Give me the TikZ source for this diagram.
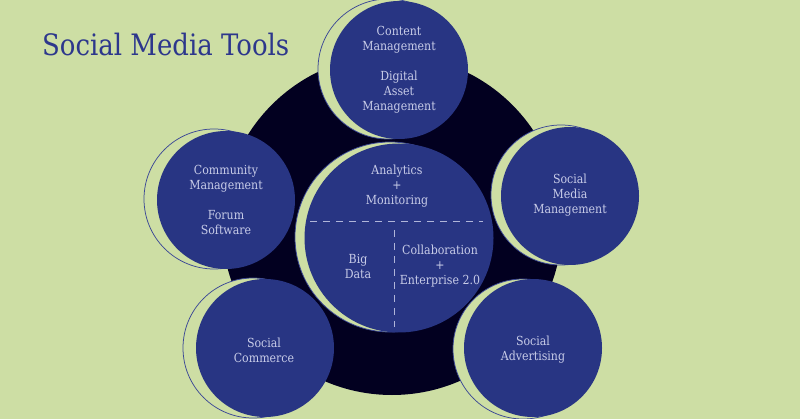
\documentclass[tikz,border=0pt]{standalone}
\usepackage{fontspec}
\setmainfont{DejaVu Serif}[FakeStretch=0.88]
\definecolor{bgc}{RGB}{205,222,164}
\definecolor{darkc}{RGB}{2,0,32}
\definecolor{bluec}{RGB}{40,53,131}
\definecolor{rimc}{RGB}{60,72,150}
\definecolor{txtc}{RGB}{200,204,232}
\definecolor{titlec}{RGB}{45,55,140}
\begin{document}
\begin{tikzpicture}[x=1pt,y=-1pt,
  ghost/.style={circle, fill=bgc, draw=rimc, line width=0.75pt, minimum size=#1, inner sep=0pt},
  disc/.style={circle, fill=bluec, minimum size=#1, inner sep=0pt},
  lbl/.style={text=txtc, align=center, inner sep=0pt, font=\fontsize{12.5}{15}\selectfont},
  sep/.style={draw=txtc!85!bluec, line width=1pt, dash pattern=on 7pt off 6pt}]
\fill[bgc] (0,0) rectangle (800,419);
\useasboundingbox (0,0) rectangle (800,419);
\node[anchor=base west, text=titlec, inner sep=0pt, font=\fontsize{29.5}{31}\selectfont] (title) at (42,56) {Social Media Tools};
% hub
\node[circle, fill=darkc, minimum size=340pt, inner sep=0pt] (hub) at (392,225) {};
% top
\node[ghost=140pt] (g1) at (388,69) {};
\node[disc=138pt] (c1) at (399,70) {};
% community
\node[ghost=140pt] (g2) at (214,199) {};
\node[disc=138pt] (c2) at (226,200) {};
% social media management
\node[ghost=140pt] (g3) at (561,195) {};
\node[disc=138pt] (c3) at (570,196) {};
% commerce
\node[ghost=140pt] (g4) at (253,348) {};
\node[disc=138pt] (c4) at (265,348) {};
% advertising
\node[ghost=140pt] (g5) at (523,349) {};
\node[disc=138pt] (c5) at (533,348) {};
% center
\node[ghost=190pt] (g0) at (390,237) {};
\node[disc=189pt] (c0) at (399,238) {};
% labels
\node[lbl] (t1) at (399,70) {Content\\Management\\[15pt]Digital\\Asset\\Management};
\node[lbl] (t2) at (226,200) {Community\\Management\\[15pt]Forum\\Software};
\node[lbl] (t3) at (570,195) {Social\\Media\\Management};
\node[lbl] (t4) at (264,350) {Social\\Commerce};
\node[lbl] (t5) at (533,350) {Social\\Advertising};
\node[lbl] (t0) at (397,186) {Analytics\\+\\Monitoring};
\node[lbl] (t6) at (358,266) {Big\\Data};
\node[lbl] (t7) at (440,266) {Collaboration\\+\\Enterprise 2.0};
% dashed separators
\coordinate (hl) at (310,222);
\coordinate (hr) at (483,222);
\coordinate (vt) at (394,230);
\coordinate (vb) at (394,327);
\draw[sep] (hl) -- (hr);
\draw[sep] (vt) -- (vb);
\end{tikzpicture}
\end{document}
